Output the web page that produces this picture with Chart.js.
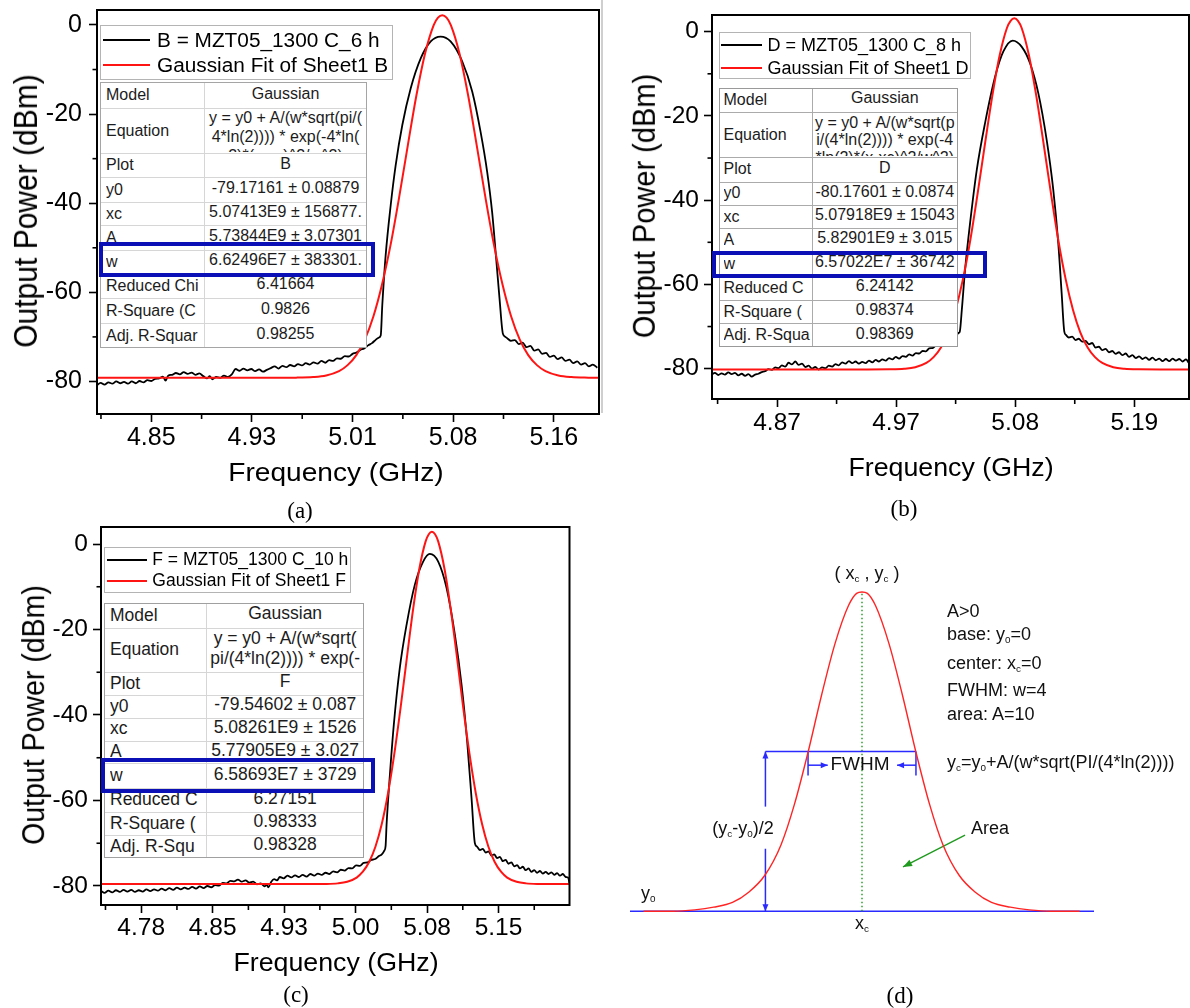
<!DOCTYPE html>
<html>
<head>
<meta charset="utf-8">
<script src="https://cdn.jsdelivr.net/npm/chart.js@4.4.1/dist/chart.umd.min.js"></script>
<style>
html,body{margin:0;padding:0;background:#fff;}
body{width:1190px;height:1008px;position:relative;overflow:hidden;font-family:"Liberation Sans",Arial,Helvetica,sans-serif;color:#000;}
canvas{position:absolute;z-index:1;}
.ov{position:absolute;z-index:3;}
.ctr{position:absolute;z-index:3;white-space:nowrap;line-height:1;transform:translate(-50%,-50%);}
.lft{position:absolute;z-index:3;white-space:nowrap;line-height:1;transform:translateY(-50%);}
.cap{font-family:"Liberation Serif","Times New Roman",serif;font-size:23px;}
.dt{font-size:18px;color:#111;}
sub{font-size:0.55em;vertical-align:-0.35em;line-height:0;}
</style>
</head>
<body>
<!-- axis titles -->
<div class="ctr" style="left:26px;top:211px;font-size:30px;transform:translate(-50%,-50%) rotate(-90deg) scaleY(1.12);">Output Power (dBm)</div>
<div class="ctr" style="left:336px;top:472px;font-size:26px;transform:translate(-50%,-50%) scaleX(1.08);">Frequency (GHz)</div>
<div class="ctr" style="left:644px;top:206px;font-size:29px;transform:translate(-50%,-50%) rotate(-90deg) scaleY(1.1);">Output Power (dBm)</div>
<div class="ctr" style="left:951px;top:467px;font-size:25px;transform:translate(-50%,-50%) scaleX(1.07);">Frequency (GHz)</div>
<div class="ctr" style="left:33px;top:715px;font-size:28.5px;transform:translate(-50%,-50%) rotate(-90deg) scaleY(1.1);">Output Power (dBm)</div>
<div class="ctr" style="left:336px;top:962px;font-size:25px;transform:translate(-50%,-50%) scaleX(1.07);">Frequency (GHz)</div>
<!-- captions -->
<div class="ctr cap" style="left:300px;top:510px;">(a)</div>
<div class="ctr cap" style="left:904px;top:508px;">(b)</div>
<div class="ctr cap" style="left:296px;top:994px;">(c)</div>
<div class="ctr cap" style="left:900px;top:995px;">(d)</div>
<!-- separator -->
<div class="ov" style="left:601px;top:0;width:1.5px;height:413px;background:#cfcfcf;"></div>
<!-- panel d texts -->
<div class="ctr dt" style="left:867px;top:573px;">( x<sub>c</sub> , y<sub>c</sub> )</div>
<div class="lft dt" style="left:947px;top:611px;">A&gt;0</div>
<div class="lft dt" style="left:947px;top:634px;">base: y<sub>0</sub>=0</div>
<div class="lft dt" style="left:947px;top:663px;">center: x<sub>c</sub>=0</div>
<div class="lft dt" style="left:947px;top:690px;">FWHM: w=4</div>
<div class="lft dt" style="left:947px;top:714px;">area: A=10</div>
<div class="lft dt" style="left:947px;top:762px;">y<sub>c</sub>=y<sub>0</sub>+A/(w*sqrt(PI/(4*ln(2))))</div>
<div class="ctr dt" style="left:860px;top:763px;font-size:19px;">FWHM</div>
<div class="ctr dt" style="left:743px;top:828px;">(y<sub>c</sub>-y<sub>0</sub>)/2</div>
<div class="lft dt" style="left:971px;top:828px;">Area</div>
<div class="lft dt" style="left:641px;top:893px;">y<sub>0</sub></div>
<div class="ctr dt" style="left:862px;top:923px;">x<sub>c</sub></div>

<script>
// ================= DATA =================
const Y_TICKS = [-80, -60, -40, -20, 0];
const Y_TICK_LABELS = ['-80', '-60', '-40', '-20', '0'];

// ---- panel (a) ----
const xTicksA = [4.85, 4.9275, 5.005, 5.0825, 5.16];
const xTickLabelsA = ['4.85', '4.93', '5.01', '5.08', '5.16'];
const freqA = [4.808,4.811,4.814,4.817,4.820,4.823,4.826,4.829,4.832,4.835,4.838,4.841,4.844,4.847,4.850,4.853,4.856,4.859,4.861,4.863,4.866,4.869,4.872,4.875,4.878,4.881,4.884,4.887,4.890,4.893,4.895,4.897,4.900,4.903,4.906,4.909,4.912,4.915,4.918,4.921,4.924,4.927,4.930,4.933,4.936,4.939,4.942,4.945,4.948,4.951,4.954,4.957,4.960,4.963,4.966,4.969,4.972,4.975,4.978,4.981,4.984,4.987,4.990,4.993,4.996,4.999,5.002,5.005,5.008,5.011,5.014,5.017,5.020,5.023,5.025,5.0267,5.0279,5.0305,5.0344,5.0382,5.0433,5.0498,5.0575,5.0652,5.0728,5.0805,5.0895,5.0972,5.1036,5.1087,5.1125,5.1156,5.1182,5.1208,5.1228,5.1245,5.127,5.130,5.133,5.136,5.139,5.142,5.145,5.148,5.151,5.154,5.157,5.160,5.163,5.166,5.169,5.172,5.175,5.178,5.181,5.184,5.187,5.190,5.1935];
const powerA = [-80.9,-80.3,-80.7,-80.2,-80.5,-80.0,-80.4,-80.1,-80.5,-80.0,-80.4,-79.9,-80.2,-79.7,-79.9,-79.4,-79.3,-78.9,-79.8,-78.7,-78.5,-78.1,-78.4,-77.9,-78.3,-78.0,-78.5,-78.2,-78.8,-79.3,-78.8,-79.5,-79.0,-79.2,-78.7,-79.0,-78.4,-77.2,-77.6,-77.1,-77.5,-77.2,-77.7,-77.3,-77.8,-77.4,-77.0,-76.6,-77.1,-76.5,-76.8,-76.3,-76.6,-76.1,-76.4,-75.9,-76.2,-75.7,-76.0,-75.4,-75.8,-75.2,-75.4,-74.8,-74.9,-74.3,-74.4,-73.8,-73.5,-72.9,-72.6,-71.9,-71.4,-70.6,-70.2,-69.7,-62.9,-51.7,-40.4,-31.5,-22.5,-14.2,-7.5,-3.7,-2.6,-3.7,-8.2,-15.0,-24.0,-33.0,-42.0,-52.4,-61.4,-69.3,-70.0,-70.4,-70.9,-70.7,-71.6,-71.3,-72.3,-72.0,-73.1,-72.8,-73.8,-73.6,-74.5,-74.2,-75.0,-74.6,-75.4,-75.1,-75.9,-75.5,-76.2,-75.9,-76.6,-76.2,-76.9];
const fitFreqA = [4.8082,4.94,4.9615,4.9747,4.9847,4.9946,5.0012,5.0079,5.0145,5.0211,5.0277,5.0344,5.041,5.0476,5.0542,5.0609,5.0675,5.0708,5.0741,5.0774,5.0807,5.0873,5.094,5.1006,5.1072,5.1138,5.1205,5.1271,5.1337,5.1403,5.147,5.1536,5.1635,5.1735,5.1867,5.1948];
const fitPowerA = [-79.17,-79.17,-79.14,-79.01,-78.65,-77.67,-76.33,-74.08,-70.56,-65.37,-58.25,-49.18,-38.48,-26.95,-15.77,-6.34,-0.02,1.64,2.2,1.64,-0.02,-6.34,-15.77,-26.95,-38.48,-49.18,-58.25,-65.37,-70.56,-74.08,-76.33,-77.67,-78.65,-79.01,-79.14,-79.17];
const legendA = ['B = MZT05_1300 C_6 h', 'Gaussian Fit of Sheet1 B'];
const tableLabelsA = ['Model','Equation','Plot','y0','xc','A','w','Reduced Chi','R-Square (C','Adj. R-Squar'];
const tableValuesA = ['Gaussian','y = y0 + A/(w*sqrt(pi/(\n4*ln(2)))) * exp(-4*ln(\n2)*(x-xc)^2/w^2)','B','-79.17161 \u00b1 0.08879','5.07413E9 \u00b1 156877.','5.73844E9 \u00b1 3.07301','6.62496E7 \u00b1 383301.','6.41664','0.9826','0.98255'];

// ---- panel (b) ----
const xTicksB = [4.8667, 4.9733, 5.08, 5.1867];
const xTickLabelsB = ['4.87', '4.97', '5.08', '5.19'];
const freqB = [4.8085,4.811,4.814,4.817,4.820,4.823,4.826,4.829,4.832,4.835,4.838,4.841,4.844,4.847,4.850,4.853,4.856,4.859,4.862,4.865,4.868,4.871,4.874,4.877,4.880,4.883,4.886,4.889,4.892,4.895,4.898,4.901,4.904,4.907,4.910,4.913,4.916,4.919,4.922,4.925,4.928,4.931,4.934,4.937,4.940,4.943,4.946,4.949,4.952,4.955,4.958,4.961,4.964,4.967,4.970,4.973,4.976,4.979,4.982,4.985,4.988,4.991,4.994,4.997,5.000,5.003,5.006,5.009,5.012,5.015,5.018,5.021,5.024,5.027,5.0295,5.0304,5.0322,5.0351,5.0396,5.0456,5.053,5.062,5.0694,5.0778,5.0859,5.0933,5.1007,5.1082,5.1141,5.1186,5.1216,5.1240,5.1255,5.128,5.131,5.134,5.137,5.140,5.143,5.146,5.149,5.152,5.155,5.158,5.161,5.164,5.167,5.170,5.173,5.176,5.179,5.182,5.185,5.188,5.191,5.194,5.197,5.200,5.203,5.206,5.209,5.212,5.215,5.218,5.221,5.224,5.227,5.230,5.233,5.2355];
const powerB = [-81.3,-81.0,-81.5,-81.1,-81.4,-80.9,-81.3,-81.0,-81.6,-81.2,-81.7,-81.3,-81.9,-81.4,-81.2,-80.8,-80.6,-80.1,-80.3,-79.7,-79.9,-79.2,-79.5,-78.6,-79.0,-78.3,-79.1,-78.8,-79.6,-79.3,-80.0,-79.6,-80.2,-79.7,-79.9,-79.3,-79.5,-78.9,-79.2,-78.5,-78.8,-78.2,-78.7,-78.3,-78.8,-78.4,-78.7,-78.1,-78.5,-77.9,-78.3,-77.8,-78.1,-77.5,-77.8,-77.2,-77.6,-77.0,-77.2,-76.6,-76.9,-76.3,-76.4,-75.8,-75.9,-75.2,-75.1,-74.5,-74.4,-73.7,-73.5,-72.9,-72.6,-72.0,-71.5,-71.2,-66.0,-56.5,-45.4,-32.8,-21.7,-10.7,-4.7,-2.1,-3.6,-7.5,-14.6,-25.7,-37.5,-50.2,-62.0,-71.2,-72.0,-72.6,-72.4,-73.2,-72.9,-73.6,-73.4,-74.2,-73.9,-75.0,-74.8,-75.6,-75.3,-76.1,-75.8,-76.5,-76.1,-76.8,-76.4,-77.2,-76.8,-77.5,-77.1,-77.7,-77.3,-77.9,-77.4,-78.0,-77.6,-78.2,-77.7,-78.2,-77.6,-78.1,-77.7,-78.3,-77.8,-78.6];
const fitFreqB = [4.8084,4.9478,4.9675,4.9806,4.9905,5.0004,5.0069,5.0135,5.0201,5.0266,5.0332,5.0398,5.0463,5.0529,5.0595,5.0661,5.0726,5.0759,5.0792,5.0825,5.0858,5.0923,5.0989,5.1055,5.1121,5.1186,5.1252,5.1318,5.1383,5.1449,5.1515,5.158,5.1679,5.1778,5.1909,5.2106,5.2357];
const fitPowerB = [-80.18,-80.18,-80.15,-80.02,-79.65,-78.64,-77.27,-74.97,-71.36,-66.05,-58.75,-49.46,-38.51,-26.70,-15.24,-5.59,0.88,2.59,3.16,2.59,0.88,-5.59,-15.24,-26.70,-38.51,-49.46,-58.75,-66.05,-71.36,-74.97,-77.27,-78.64,-79.65,-80.02,-80.15,-80.18,-80.18];
const legendB = ['D = MZT05_1300 C_8 h', 'Gaussian Fit of Sheet1 D'];
const tableLabelsB = ['Model','Equation','Plot','y0','xc','A','w','Reduced C','R-Square (','Adj. R-Squa'];
const tableValuesB = ['Gaussian','y = y0 + A/(w*sqrt(p\ni/(4*ln(2)))) * exp(-4\n*ln(2)*(x-xc)^2/w^2)','D','-80.17601 \u00b1 0.0874','5.07918E9 \u00b1 15043','5.82901E9 \u00b1 3.015','6.57022E7 \u00b1 36742','6.24142','0.98374','0.98369'];

// ---- panel (c) ----
const xTicksC = [4.7775, 4.8525, 4.9275, 5.0025, 5.0775, 5.1525];
const xTickLabelsC = ['4.78', '4.85', '4.93', '5.00', '5.08', '5.15'];
const freqC = [4.7355,4.739,4.743,4.747,4.751,4.755,4.759,4.763,4.767,4.771,4.775,4.779,4.783,4.787,4.791,4.795,4.799,4.803,4.807,4.811,4.815,4.819,4.823,4.827,4.831,4.835,4.839,4.843,4.847,4.851,4.855,4.859,4.863,4.867,4.871,4.875,4.879,4.883,4.887,4.891,4.895,4.899,4.903,4.907,4.909,4.911,4.914,4.917,4.920,4.923,4.927,4.931,4.935,4.939,4.943,4.947,4.951,4.955,4.959,4.963,4.967,4.971,4.975,4.979,4.983,4.987,4.991,4.995,4.999,5.003,5.007,5.011,5.015,5.019,5.023,5.027,5.030,5.0325,5.0340,5.035,5.0385,5.0426,5.0489,5.0560,5.0647,5.0734,5.0804,5.0892,5.098,5.1067,5.1137,5.1196,5.1242,5.1277,5.130,5.133,5.136,5.139,5.142,5.145,5.148,5.151,5.154,5.157,5.160,5.163,5.166,5.169,5.172,5.175,5.178,5.181,5.184,5.187,5.190,5.193,5.196,5.199,5.202,5.205,5.208,5.211,5.214,5.217,5.220,5.223,5.2255,5.227];
const powerC = [-81.2,-81.6,-81.1,-81.5,-81.0,-81.4,-80.9,-81.3,-80.9,-81.4,-81.0,-81.3,-80.8,-81.2,-80.8,-81.1,-80.6,-81.0,-80.5,-80.9,-80.4,-80.8,-80.4,-80.7,-80.2,-80.6,-80.1,-80.5,-80.0,-80.3,-79.8,-79.9,-79.3,-79.4,-78.8,-78.9,-78.5,-79.0,-78.7,-79.2,-79.0,-79.6,-79.4,-80.1,-79.7,-80.3,-79.0,-78.4,-78.7,-77.9,-78.2,-77.6,-78.0,-77.5,-77.9,-77.4,-77.8,-77.2,-77.6,-77.1,-77.4,-76.9,-77.2,-76.6,-76.8,-76.2,-76.4,-75.8,-75.9,-75.2,-75.3,-74.6,-74.5,-73.9,-73.7,-73.0,-72.6,-71.8,-70.6,-65.7,-54.0,-42.3,-29.0,-18.9,-9.5,-4.1,-2.3,-4.1,-10.3,-21.2,-32.9,-46.2,-59.5,-70.0,-70.8,-71.6,-71.3,-72.2,-71.9,-72.9,-72.6,-73.5,-73.2,-74.2,-73.9,-74.8,-74.5,-75.4,-75.1,-75.9,-75.5,-76.3,-75.9,-76.7,-76.3,-76.9,-76.5,-77.1,-76.7,-77.2,-76.8,-77.4,-77.0,-77.6,-77.2,-77.9,-78.0,-79.4];
const fitFreqC = [4.7353,4.9509,4.9706,4.9838,4.9937,5.0036,5.0101,5.0167,5.0233,5.0299,5.0365,5.0431,5.0497,5.0563,5.0628,5.0694,5.076,5.0793,5.0826,5.0859,5.0892,5.0958,5.1024,5.109,5.1155,5.1221,5.1287,5.1353,5.1419,5.1485,5.1551,5.1616,5.1715,5.1814,5.1946,5.2143,5.227];
const fitPowerC = [-79.55,-79.55,-79.52,-79.39,-79.02,-78.03,-76.67,-74.40,-70.83,-65.57,-58.36,-49.17,-38.34,-26.66,-15.33,-5.78,0.62,2.30,2.87,2.30,0.62,-5.78,-15.33,-26.66,-38.34,-49.17,-58.36,-65.57,-70.83,-74.40,-76.67,-78.03,-79.02,-79.39,-79.52,-79.55,-79.55];
const legendC = ['F = MZT05_1300 C_10 h', 'Gaussian Fit of Sheet1 F'];
const tableLabelsC = ['Model','Equation','Plot','y0','xc','A','w','Reduced C','R-Square (','Adj. R-Squ'];
const tableValuesC = ['Gaussian','y = y0 + A/(w*sqrt(\npi/(4*ln(2)))) * exp(-','F','-79.54602 \u00b1 0.087','5.08261E9 \u00b1 1526','5.77905E9 \u00b1 3.027','6.58693E7 \u00b1 3729','6.27151','0.98333','0.98328'];

// ---- panel (d) schematic ----
const gaussX = [-8.1,-7,-6.2,-5.5,-4.8,-4.2,-3.6,-3,-2.5,-2,-1.5,-1,-0.5,-0.2,0,0.2,0.5,1,1.5,2,2.5,3,3.6,4.2,4.8,5.5,6.2,7,8.07];
const gaussY = [0,0,0.01,0.03,0.065,0.14,0.265,0.49,0.79,1.17,1.59,1.97,2.25,2.34,2.35,2.34,2.25,1.97,1.59,1.17,0.79,0.49,0.265,0.14,0.065,0.03,0.01,0,0];
const baseX = [-8.6, 8.6], baseY = [0, 0];
const centerX = [0, 0], centerY = [0, 2.35];
const halfX = [-3.58, 2.0], halfY = [1.175, 1.175];
const vUpX = [-3.58, -3.58], vUpY = [0.77, 1.175];
const vLoX = [-3.58, -3.58], vLoY = [0, 0.46];
const fwL_X = [-2, -2], fwL_Y = [1.0, 1.175];
const fwR_X = [2, 2], fwR_Y = [1.0, 1.175];
const arL_X = [-2, -1.27], arL_Y = [1.075, 1.075];
const arR_X = [2, 1.3], arR_Y = [1.075, 1.075];
const grX = [3.82, 1.52], grY = [0.56, 0.326];

// ================= STYLE / LAYOUT =================
const RED = '#ff1414', BLUE_BOX = '#0b10b6';
const BLUE_D = '#2a2aff', RED_D = '#ff2424', GREEN_D = '#1f9a1f';
Chart.defaults.font.family = "'Liberation Sans', Arial, sans-serif";
Chart.defaults.color = '#000';

const pts = (xs, ys) => xs.map((x, i) => ({x: x, y: ys[i]}));

function addCanvas(left, top, w, h) {
  const c = document.createElement('canvas');
  c.width = w; c.height = h;
  c.style.left = left + 'px'; c.style.top = top + 'px';
  c.style.width = w + 'px'; c.style.height = h + 'px';
  document.body.appendChild(c);
  return c;
}

const frameAndMinor = {
  id: 'frameAndMinor',
  afterDraw(chart) {
    const ctx = chart.ctx, a = chart.chartArea;
    ctx.save();
    ctx.strokeStyle = '#000';
    ctx.lineWidth = 1.6;
    ['x', 'y'].forEach(id => {
      const s = chart.scales[id];
      const v = s.ticks.map(t => t.value);
      if (v.length < 2) return;
      const step = v[1] - v[0];
      const mids = [v[0] - step / 2, v[v.length - 1] + step / 2];
      for (let i = 0; i < v.length - 1; i++) mids.push((v[i] + v[i + 1]) / 2);
      mids.forEach(m => {
        if (m < s.min || m > s.max) return;
        const p = s.getPixelForValue(m);
        ctx.beginPath();
        if (id === 'x') { ctx.moveTo(p, a.bottom); ctx.lineTo(p, a.bottom + 5); }
        else { ctx.moveTo(a.left, p); ctx.lineTo(a.left - 4.5, p); }
        ctx.stroke();
      });
    });
    ctx.lineWidth = 2;
    ctx.strokeRect(a.left, a.top, a.right - a.left, a.bottom - a.top);
    ctx.restore();
  }
};

function spectrum(p) {
  const cv = addCanvas(p.box[0], p.box[1], p.box[2], p.box[3]);
  return new Chart(cv, {
    type: 'line',
    data: {datasets: [
      {label: p.legend[1], data: pts(p.fitX, p.fitY), borderColor: RED, borderWidth: 2, pointRadius: 0, cubicInterpolationMode: 'monotone', fill: false, order: 0},
      {label: p.legend[0], data: pts(p.dataX, p.dataY), borderColor: '#000', borderWidth: 1.8, pointRadius: 0, cubicInterpolationMode: 'monotone', fill: false, order: 1}
    ]},
    options: {
      responsive: false, animation: false, devicePixelRatio: 1, events: [],
      layout: {padding: p.pad},
      plugins: {legend: {display: false}, tooltip: {enabled: false}},
      scales: {
        x: {type: 'linear', min: p.xMin, max: p.xMax,
          afterBuildTicks: ax => { ax.ticks = p.xTicks.map(v => ({value: v})); },
          afterFit: ax => { ax.height = p.xAxisH; },
          ticks: {autoSkip: false, maxRotation: 0, minRotation: 0, padding: p.xPad, font: {size: p.tickFont}, color: '#000', callback: (v, i) => p.xLabels[i]},
          grid: {drawOnChartArea: false, drawTicks: true, tickLength: 8, tickWidth: 1.6, tickColor: '#000'},
          border: {display: false}},
        y: {type: 'linear', min: p.yMin, max: p.yMax,
          afterBuildTicks: ax => { ax.ticks = Y_TICKS.map(v => ({value: v})); },
          afterFit: ax => { ax.width = p.yAxisW; },
          ticks: {autoSkip: false, padding: p.yPad, font: {size: p.tickFont}, color: '#000', callback: (v, i) => Y_TICK_LABELS[i]},
          grid: {drawOnChartArea: false, drawTicks: true, tickLength: 8, tickWidth: 1.6, tickColor: '#000'},
          border: {display: false}}
      }
    },
    plugins: [frameAndMinor]
  });
}

spectrum({box: [0, -20, 602, 520], pad: {top: 30, right: 3, left: 0, bottom: 0}, yAxisW: 97, xAxisH: 86,
  xMin: 4.8082, xMax: 5.1948, yMin: -87.3, yMax: 3.36, xTicks: xTicksA, xLabels: xTickLabelsA,
  tickFont: 25, xPad: 1, yPad: 7, dataX: freqA, dataY: powerA, fitX: fitFreqA, fitY: fitPowerA, legend: legendA});
spectrum({box: [600, -20, 590, 510], pad: {top: 35, right: 1, left: 0, bottom: 0}, yAxisW: 112, xAxisH: 91,
  xMin: 4.8084, xMax: 5.2357, yMin: -87.2, yMax: 3.96, xTicks: xTicksB, xLabels: xTickLabelsB,
  tickFont: 24.5, xPad: 2, yPad: 5, dataX: freqB, dataY: powerB, fitX: fitFreqB, fitY: fitPowerB, legend: legendB});
spectrum({box: [0, 490, 600, 510], pad: {top: 37, right: 30.5, left: 0, bottom: 0}, yAxisW: 101, xAxisH: 95,
  xMin: 4.7353, xMax: 5.227, yMin: -84.45, yMax: 3.98, xTicks: xTicksC, xLabels: xTickLabelsC,
  tickFont: 24.5, xPad: 1, yPad: 5, dataX: freqC, dataY: powerC, fitX: fitFreqC, fitY: fitPowerC, legend: legendC});

// ---- panel (d) chart ----
const ARROWS = [
  {from: [-3.58, 0.9], to: [-3.58, 1.175], color: BLUE_D, len: 7, half: 3},
  {from: [-3.58, 0.2], to: [-3.58, 0], color: BLUE_D, len: 7, half: 3},
  {from: [-2, 1.075], to: [-1.27, 1.075], color: BLUE_D, len: 7, half: 3},
  {from: [2, 1.075], to: [1.3, 1.075], color: BLUE_D, len: 7, half: 3},
  {from: [3.82, 0.56], to: [1.52, 0.326], color: GREEN_D, len: 9, half: 3.5}
];
const arrowPlugin = {
  id: 'arrowHeads',
  afterDatasetsDraw(chart) {
    const ctx = chart.ctx, sx = chart.scales.x, sy = chart.scales.y;
    ARROWS.forEach(a => {
      const x1 = sx.getPixelForValue(a.from[0]), y1 = sy.getPixelForValue(a.from[1]);
      const x2 = sx.getPixelForValue(a.to[0]), y2 = sy.getPixelForValue(a.to[1]);
      const ang = Math.atan2(y2 - y1, x2 - x1);
      ctx.save();
      ctx.fillStyle = a.color;
      ctx.translate(x2, y2); ctx.rotate(ang);
      ctx.beginPath(); ctx.moveTo(0, 0); ctx.lineTo(-a.len, -a.half); ctx.lineTo(-a.len, a.half); ctx.closePath(); ctx.fill();
      ctx.restore();
    });
  }
};
const seg = (xs, ys, color, w, dash, order) => ({data: pts(xs, ys), borderColor: color, borderWidth: w, borderDash: dash || [], pointRadius: 0, fill: false, clip: false, order: order, tension: 0});
const cvD = addCanvas(600, 540, 590, 460);
new Chart(cvD, {
  type: 'line',
  data: {datasets: [
    Object.assign(seg(gaussX, gaussY, RED_D, 1.4, null, 0), {cubicInterpolationMode: 'monotone'}),
    seg(baseX, baseY, BLUE_D, 1.6, null, 5),
    seg(centerX, centerY, GREEN_D, 1.4, [1.5, 2.5], 4),
    seg(halfX, halfY, BLUE_D, 1.5, null, 3),
    seg(vUpX, vUpY, BLUE_D, 1.5, null, 3),
    seg(vLoX, vLoY, BLUE_D, 1.5, null, 3),
    seg(fwL_X, fwL_Y, BLUE_D, 1.5, null, 3),
    seg(fwR_X, fwR_Y, BLUE_D, 1.5, null, 3),
    seg(arL_X, arL_Y, BLUE_D, 1.5, null, 3),
    seg(arR_X, arR_Y, BLUE_D, 1.5, null, 3),
    seg(grX, grY, GREEN_D, 1.4, null, 3)
  ]},
  options: {
    responsive: false, animation: false, devicePixelRatio: 1, events: [],
    layout: {padding: {left: 30, right: 96, top: 18, bottom: 48}},
    plugins: {legend: {display: false}, tooltip: {enabled: false}},
    scales: {
      x: {type: 'linear', display: false, min: -8.6, max: 8.6},
      y: {type: 'linear', display: false, min: -0.3, max: 2.6}
    }
  },
  plugins: [arrowPlugin]
});

// ================= OVERLAYS: legends, tables, highlight boxes =================
function buildLegend(s, texts) {
  const box = document.createElement('div');
  box.className = 'ov';
  box.style.cssText += `left:${s.l}px;top:${s.t}px;width:${s.w}px;height:${s.h}px;background:#fff;border:1.5px solid #b4b4b4;box-sizing:border-box;`;
  document.body.appendChild(box);
  const colors = ['#000', RED];
  [s.r1, s.r2].forEach((ry, i) => {
    const ln = document.createElement('div');
    ln.className = 'ov';
    ln.style.cssText += `left:${s.lineL}px;top:${ry - 1}px;width:${s.lineW}px;height:2px;background:${colors[i]};z-index:4;`;
    document.body.appendChild(ln);
    const tx = document.createElement('div');
    tx.className = 'lft';
    tx.style.cssText += `left:${s.textL}px;top:${ry}px;font-size:${s.font}px;z-index:4;transform:translateY(-50%) scaleX(${s.sx});transform-origin:left center;`;
    tx.textContent = texts[i];
    document.body.appendChild(tx);
  });
}

function buildTable(s, labels, values) {
  const rows = s.rows, top = rows[0], H = rows[rows.length - 1] - top;
  const t = document.createElement('div');
  t.className = 'ov';
  t.style.cssText += `left:${s.l}px;top:${top}px;width:${s.w}px;height:${H}px;background:#fff;border:1px solid ${s.outer};box-sizing:border-box;font-size:${s.font}px;color:#1c1c1c;overflow:hidden;`;
  document.body.appendChild(t);
  const dv = document.createElement('div');
  dv.style.cssText = `position:absolute;left:${s.col - 1}px;top:0;width:1px;height:100%;background:${s.inner};`;
  t.appendChild(dv);
  for (let i = 0; i < labels.length; i++) {
    const y0 = rows[i] - top - 1, h = rows[i + 1] - rows[i];
    if (i > 0) {
      const hl = document.createElement('div');
      hl.style.cssText = `position:absolute;left:0;top:${y0}px;width:100%;height:1px;background:${s.inner};`;
      t.appendChild(hl);
    }
    const lc = document.createElement('div');
    lc.style.cssText = `position:absolute;left:${s.pad}px;top:${y0}px;width:${s.col - s.pad - 2}px;height:${h}px;display:flex;align-items:center;white-space:nowrap;overflow:hidden;line-height:1;`;
    lc.textContent = labels[i];
    t.appendChild(lc);
    const vc = document.createElement('div');
    if (i === 1) {
      vc.style.cssText = `position:absolute;left:${s.col}px;top:${y0}px;width:${s.w - s.col - 2}px;height:${h - 1}px;overflow:hidden;white-space:pre;text-align:center;line-height:${s.eqLH}px;padding-top:${s.eqPad}px;box-sizing:border-box;`;
    } else {
      vc.style.cssText = `position:absolute;left:${s.col}px;top:${y0}px;width:${s.w - s.col - 2}px;height:${h}px;display:flex;align-items:center;justify-content:center;white-space:nowrap;overflow:hidden;line-height:1;padding-bottom:3px;box-sizing:border-box;`;
    }
    vc.textContent = values[i];
    t.appendChild(vc);
  }
}

function blueBox(l, tp, w, h) {
  const b = document.createElement('div');
  b.className = 'ov';
  b.style.cssText += `left:${l}px;top:${tp}px;width:${w}px;height:${h}px;border:4px solid ${BLUE_BOX};box-sizing:border-box;z-index:5;`;
  document.body.appendChild(b);
}

buildLegend({l: 100, t: 25, w: 293, h: 55, r1: 40, r2: 65, lineL: 103, lineW: 47, textL: 157, font: 20, sx: 1.04}, legendA);
buildLegend({l: 718.5, t: 32, w: 252, h: 47, r1: 45, r2: 67.7, lineL: 721, lineW: 41, textL: 767.4, font: 18, sx: 1.0}, legendB);
buildLegend({l: 104, t: 546.7, w: 247.3, h: 46.6, r1: 560, r2: 580.7, lineL: 107, lineW: 40, textL: 152.3, font: 17.5, sx: 1.0}, legendC);

buildTable({l: 100, w: 267, col: 104, rows: [82,108,153,177,202,225,250,273,298,323,348], font: 16, eqLH: 19, eqPad: 0, pad: 5, outer: '#a5a5a5', inner: '#d6d6d6'}, tableLabelsA, tableValuesA);
buildTable({l: 718.5, w: 239.5, col: 93, rows: [87.7,112.3,157.3,181.7,205,228.3,251.7,276,300,323.3,347.3], font: 16, eqLH: 17.5, eqPad: 1.5, pad: 4, outer: '#9a9a9a', inner: '#ababab'}, tableLabelsB, tableValuesB);
buildTable({l: 104, w: 260.3, col: 102, rows: [603.3,627.7,671.7,695,717.7,740.7,763.3,788.3,811.7,835,858.3], font: 17.5, eqLH: 20, eqPad: 0.5, pad: 5, outer: '#a0a0a0', inner: '#d6d6d6'}, tableLabelsC, tableValuesC);

blueBox(99, 242, 276, 35);
blueBox(711.7, 250.7, 275, 27.6);
blueBox(101.4, 758.3, 273.6, 35);
</script>
</body>
</html>
